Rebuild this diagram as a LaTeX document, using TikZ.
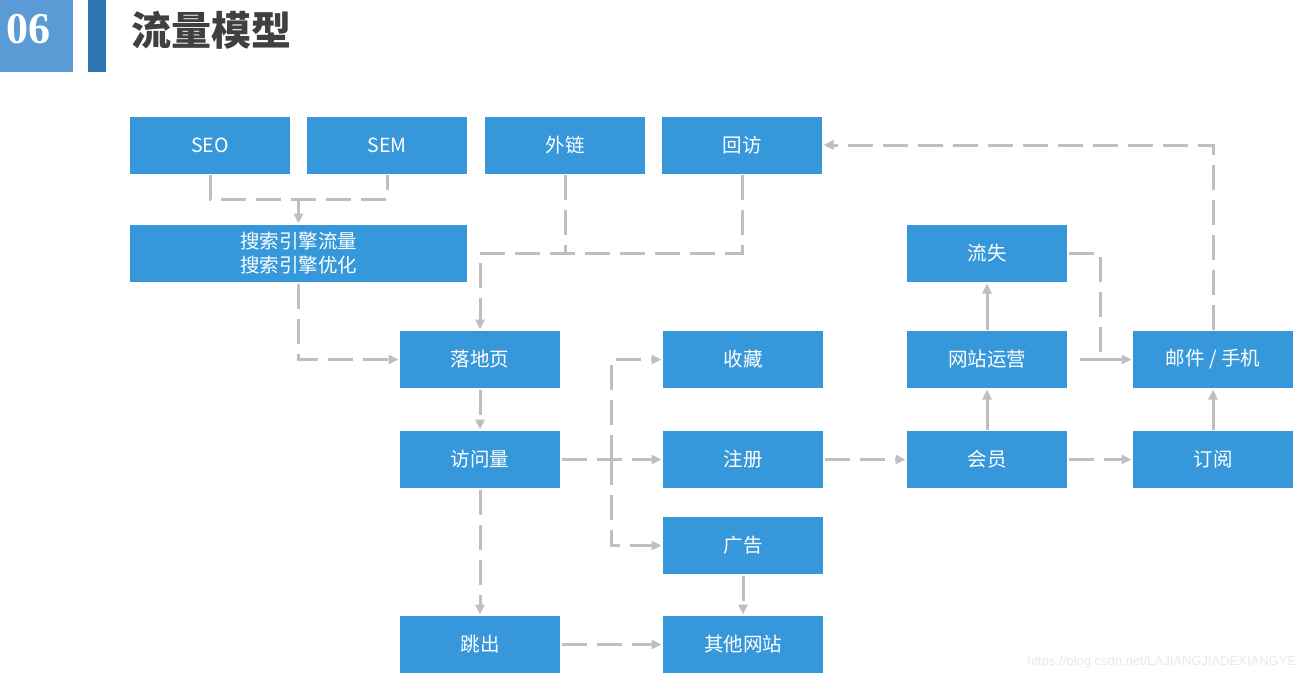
\documentclass[tikz,border=0pt]{standalone}
\usepackage{fontspec}
\usepackage{tikz}
\usetikzlibrary{arrows.meta}
\setmainfont{Liberation Serif}
\newfontfamily\cjk{Noto Sans CJK SC}
\newfontfamily\wmfont{Liberation Sans}
\definecolor{cblue}{HTML}{3698DA}
\definecolor{cgray}{HTML}{BFBFBF}
\definecolor{hlight}{HTML}{5B9BD5}
\definecolor{hdark}{HTML}{2E75B6}
\definecolor{ctitle}{HTML}{404040}

\begin{document}
\begin{tikzpicture}[x=1pt,y=-1pt,>={Triangle[length=10pt,width=9pt]},node distance=177pt,
  line width=3pt,
  main node/.style={rectangle,fill=cblue,text=white,minimum width=160pt,minimum height=57pt,
    inner sep=0pt,align=center,font=\cjk\fontsize{19.5}{24}\selectfont},
  flow line/.style={draw=cgray,dash pattern=on 25pt off 10pt},
  solid line/.style={draw=cgray}]
  \useasboundingbox (0,0) rectangle (1309,681);

  \fill[hlight] (0,0) rectangle (73,72);
  \fill[hdark] (88,0) rectangle (106,72);
  \node[text=white,font=\bfseries\fontsize{44}{50}\selectfont] (num) at (28.5,29) {06};
  \node[anchor=west,inner sep=0pt,text=ctitle,font=\cjk\bfseries\fontsize{40}{48}\selectfont] (title) at (130,30) {流量模型};

  \node[main node] (seo) at (210,145) {SEO};
  \node[main node] (sem) [right of=seo] {SEM};
  \node[main node] (wailian) [right of=sem,node distance=178pt] {外链};
  \node[main node] (huifang) [right of=wailian] {回访};
  \node[main node,minimum width=337pt] (search) at (298.5,253.5) {搜索引擎流量\\搜索引擎优化};
  \node[main node] (luodi) at (480,359.5) {落地页};
  \node[main node] (fangwen) [below of=luodi,node distance=100pt] {访问量};
  \node[main node] (tiaochu) [below of=fangwen,node distance=185pt] {跳出};
  \node[main node] (shoucang) [right of=luodi,node distance=263pt] {收藏};
  \node[main node] (zhuce) [below of=shoucang,node distance=100pt] {注册};
  \node[main node] (guanggao) [below of=zhuce,node distance=86pt] {广告};
  \node[main node] (qita) [below of=guanggao,node distance=99pt] {其他网站};
  \node[main node] (huiyuan) [right of=zhuce,node distance=244pt] {会员};
  \node[main node] (yunying) [above of=huiyuan,node distance=100pt] {网站运营};
  \node[main node] (liushi) [above of=yunying,node distance=106pt] {流失};
  \node[main node] (youjian) [right of=yunying,node distance=226pt] {邮件 / 手机};
  \node[main node] (dingyue) [below of=youjian,node distance=100pt] {订阅};

  \node[anchor=east,text=black!9,font=\wmfont\fontsize{13}{15}\selectfont] (mark) at (1301,662)
    {https://blog.csdn.net/LAJIANGJIADEXIANGYE};

  \coordinate (seo join) at (298.5,199);
  \coordinate (link join) at (480,253);
  \coordinate (visit join) at (611,459.5);
  \coordinate (loss join) at (1100,359.5);

  \draw[flow line] (seo.south) |- (seo join) -| (sem.south);
  \draw[flow line,->] (seo join) -- (search.north);
  \draw[flow line] (wailian.south) -- (wailian.south |- link join);
  \draw[flow line,->] (huifang.south) |- (link join) -- (luodi.north);
  \draw[flow line,->] (search.south) |- (luodi.west);
  \draw[flow line,->] (luodi) -- (fangwen);
  \draw[flow line,->] (fangwen) -- (zhuce);
  \draw[flow line,->] (visit join) |- (shoucang.west);
  \draw[flow line,->] (visit join) |- (guanggao.west);
  \draw[flow line,->] (fangwen) -- (tiaochu);
  \draw[flow line,->] (tiaochu) -- (qita);
  \draw[flow line,->] (guanggao) -- (qita);
  \draw[flow line,->] (zhuce) -- (huiyuan);
  \draw[solid line,->] (huiyuan) -- (yunying);
  \draw[solid line,->] (yunying) -- (liushi);
  \draw[solid line,->,shorten <=11pt] (yunying) -- (youjian);
  \draw[flow line] (liushi.east) -| (loss join);
  \draw[flow line,->] (huiyuan) -- (dingyue);
  \draw[solid line,->] (dingyue) -- (youjian);
  \draw[flow line,->] (youjian.north) |- (huifang.east);
\end{tikzpicture}
\end{document}
